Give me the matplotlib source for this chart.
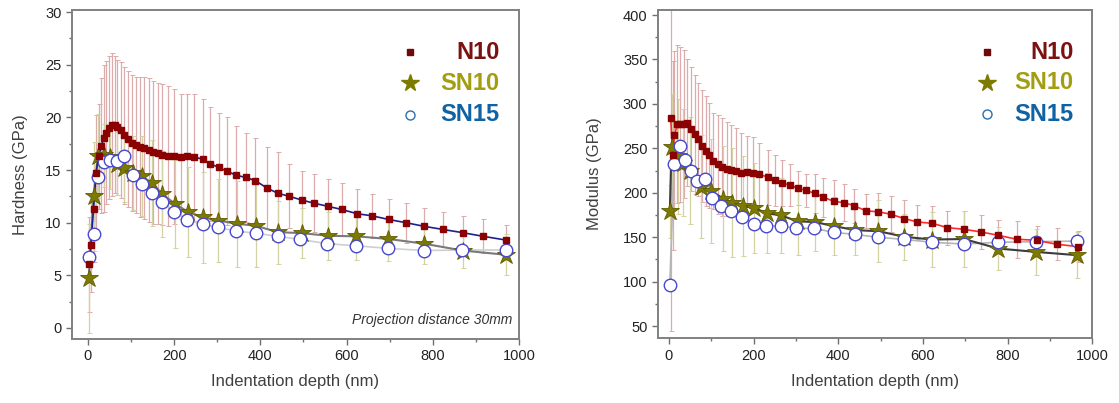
import numpy as np
import matplotlib
matplotlib.use('Agg')
import matplotlib.pyplot as plt
from matplotlib.ticker import MultipleLocator

plt.rcParams['font.family'] = ['Liberation Sans', 'DejaVu Sans']

# ---- Hardness data (left panel)
h_n10_x = [3, 7, 13, 19, 25, 31, 37, 43, 50, 56, 62, 68, 76, 84, 93, 102, 111, 121, 131, 141,
           152, 162, 173, 186, 199, 216, 231, 247, 266, 284, 303, 322, 344, 366, 388, 415, 440,
           467, 496, 524, 557, 589, 624, 659, 698, 737, 780, 824, 869, 917, 969]
h_n10_y = [6.05, 7.9, 11.3, 14.75, 16.3, 17.3, 18.0, 18.55, 19.0, 19.3, 19.3, 19.05, 18.8, 18.3,
           17.95, 17.6, 17.4, 17.2, 17.05, 16.9, 16.7, 16.6, 16.45, 16.35, 16.3, 16.25, 16.35,
           16.2, 16.05, 15.6, 15.25, 14.9, 14.5, 14.3, 14.0, 13.3, 12.8, 12.5, 12.15, 11.85,
           11.55, 11.25, 10.85, 10.65, 10.3, 10.0, 9.65, 9.35, 9.05, 8.7, 8.35]
h_n10_err = [4.5, 4.5, 5.0, 5.5, 5.0, 6.4, 7.0, 6.8, 6.8, 6.8, 6.5, 6.4, 6.5, 6.5, 6.45, 6.45,
             6.45, 6.65, 6.75, 6.85, 6.8, 6.7, 6.7, 6.65, 6.4, 5.95, 5.85, 6.0, 5.7, 5.4, 5.2,
             5.1, 4.7, 4.25, 4.0, 3.9, 3.95, 3.05, 2.75, 2.75, 2.6, 2.5, 2.3, 2.1, 1.9, 1.9,
             1.75, 1.7, 1.6, 1.6, 1.45]

h_sn10_x = [2, 13, 23, 37, 52, 68, 84, 104, 125, 148, 173, 202, 233, 268, 302, 345, 390, 440,
            496, 558, 623, 697, 780, 869, 969]
h_sn10_y = [4.7, 12.5, 16.3, 16.4, 16.2, 15.6, 15.2, 14.7, 14.4, 13.8, 12.7, 11.8, 11.0, 10.5,
            10.2, 9.9, 9.7, 9.1, 9.0, 8.75, 8.7, 8.45, 8.0, 7.35, 6.95]
h_sn10_err = [5.2, 5.2, 4.0, 3.0, 3.0, 3.0, 3.2, 3.5, 3.8, 4.1, 4.1, 4.2, 4.3, 4.35, 3.9, 4.1,
              3.95, 3.0, 2.4, 2.3, 2.25, 2.1, 1.9, 1.7, 1.95]

h_sn15_x = [3, 14, 24, 38, 51, 68, 84, 104, 125, 148, 173, 200, 231, 266, 301, 343, 389, 440,
            493, 555, 623, 697, 780, 868, 969]
h_sn15_y = [6.7, 8.9, 14.3, 15.75, 15.95, 15.85, 16.3, 14.5, 13.65, 12.85, 12.0, 11.0, 10.25,
            9.85, 9.55, 9.2, 9.0, 8.7, 8.4, 8.0, 7.8, 7.55, 7.35, 7.4, 7.4]

# ---- Modulus data (right panel)
m_n10_x = [4, 9, 13, 20, 27, 35, 43, 53, 61, 69, 78, 87, 95, 105, 115, 125, 136, 147, 159, 171,
           184, 198, 213, 235, 250, 268, 285, 305, 324, 344, 365, 390, 414, 438, 466, 495, 524,
           556, 587, 622, 658, 696, 737, 778, 822, 869, 916, 966]
m_n10_y = [284, 242, 265, 277, 277, 277.5, 279, 271.5, 266, 260, 253, 247, 242, 236, 232, 228.7,
           226.8, 225.7, 224.5, 222, 223.7, 222.6, 221, 217.3, 214, 211, 208.7, 205, 202.7,
           199.4, 195, 190.3, 189, 185.3, 179.7, 178.6, 175.9, 171, 167.2, 165.7, 160.8, 159,
           156, 152.2, 147.7, 146.6, 142.1, 139.5]
m_n10_err = [240, 106, 94, 89, 87, 83, 71, 69.5, 67, 64, 63, 61.6, 59, 54, 56, 55, 53, 51, 48,
             45, 40, 40, 35, 31, 29, 26, 24, 19, 19, 22, 22, 24, 21, 19, 19, 21, 20, 21, 19, 19,
             19, 21, 19, 17, 21, 16.5, 18, 17]

m_sn10_x = [2, 6, 22, 34, 50, 75, 100, 128, 150, 175, 201, 232, 265, 304, 346, 390, 440, 495,
            556, 622, 697, 778, 867, 965]
m_sn10_y = [179, 251, 241, 234, 225, 207, 202, 193.5, 189, 185, 183, 177, 174.5, 168, 167,
            162.5, 158, 156.8, 150.5, 147.4, 148, 137.3, 133.5, 129.8]
m_sn10_err = [30, 60, 65, 60, 60, 58, 58, 59, 61, 56, 51, 45, 42, 38, 33, 33, 28, 35, 26, 31,
              31, 24, 26, 26]

m_sn15_x = [2, 12, 25, 39, 51, 67, 86, 102, 124, 147, 173, 200, 230, 265, 301, 343, 389, 439,
            495, 556, 622, 696, 778, 867, 965]
m_sn15_y = [96.6, 232, 252.3, 236.6, 224.6, 213.3, 216, 193.7, 185, 179.8, 173, 164.8, 162.9,
            162.6, 160, 160, 155.5, 153.2, 149.9, 147.6, 144.3, 142.4, 144.3, 145, 145.7]

labels = ['N10', 'SN10', 'SN15']
label_colors = ['#7a1212', '#a39d12', '#0f62a3']

c_n10 = '#8b0000'
c_sn10 = '#7d7a00'
c_sn15 = '#4848d0'


def draw_panel(ax, n10, sn10, sn15, n10_line, sn10_line, sn15_line):
    (nx, ny, ne), (sx, sy, se), (cx, cy) = n10, sn10, sn15
    ax.errorbar(nx, ny, yerr=ne, fmt='none', ecolor='#dcabab', elinewidth=0.9,
                capsize=1.8, capthick=0.7, zorder=1)
    ax.errorbar(sx, sy, yerr=se, fmt='none', ecolor='#d2d2a2', elinewidth=0.9,
                capsize=1.8, capthick=0.7, zorder=1.5)
    ax.plot(cx, cy, color=sn15_line, lw=1.2, zorder=2)
    ax.plot(sx, sy, color=sn10_line, lw=1.5, zorder=2.1)
    ax.plot(nx, ny, color=n10_line, lw=1.2, zorder=2.2)
    ax.plot(sx, sy, ls='none', marker='*', ms=13.5, mfc=c_sn10, mec='#5e5c00', mew=0.6, zorder=3)
    ax.plot(cx, cy, ls='none', marker='o', ms=9, mfc='white', mec=c_sn15, mew=1.0, zorder=4)
    ax.plot(nx, ny, ls='none', marker='s', ms=4.4, mfc=c_n10, mec=c_n10, zorder=5)

    # manual legend
    ys = [0.872, 0.778, 0.682]
    ax.plot(0.757, ys[0], marker='s', ms=5, color='#6e0a0a', transform=ax.transAxes, ls='none')
    ax.plot(0.757, ys[1], marker='*', ms=13, color='#7d7a00', transform=ax.transAxes, ls='none')
    ax.plot(0.757, ys[2], marker='o', ms=6.5, mfc='white', mec='#2a6fb0', mew=1.0,
            transform=ax.transAxes, ls='none')
    for lab, col, yy in zip(labels, label_colors, ys):
        ax.text(0.957, yy, lab, color=col, fontsize=17, fontweight='bold',
                ha='right', va='center', transform=ax.transAxes)

    for s in ['top', 'right', 'left', 'bottom']:
        ax.spines[s].set_color('#808080')
        ax.spines[s].set_linewidth(1.4)
    ax.tick_params(which='major', direction='out', length=4, width=1, color='#707070',
                   labelsize=10.5, labelcolor='#222222', top=False, right=False)
    ax.tick_params(which='minor', direction='out', length=2.5, width=1, color='#707070',
                   top=False, right=False)


fig = plt.figure(figsize=(11.19, 4.03), dpi=100)
ax1 = fig.add_axes([0.0643, 0.159, 0.3995, 0.816])
ax2 = fig.add_axes([0.588, 0.161, 0.388, 0.814])

draw_panel(ax1, (h_n10_x, h_n10_y, h_n10_err), (h_sn10_x, h_sn10_y, h_sn10_err),
           (h_sn15_x, h_sn15_y), '#1f1f8a', '#7a7a7a', '#cfcfcf')
ax1.set_xlim(-37, 1000)
ax1.set_ylim(-1.05, 30.2)
ax1.xaxis.set_major_locator(MultipleLocator(200))
ax1.xaxis.set_minor_locator(MultipleLocator(100))
ax1.yaxis.set_major_locator(MultipleLocator(5))
ax1.yaxis.set_minor_locator(MultipleLocator(2.5))
ax1.set_xlabel('Indentation depth (nm)', fontsize=12, color='#404040', labelpad=8)
ax1.set_ylabel('Hardness (GPa)', fontsize=12, color='#404040')
ax1.yaxis.set_label_coords(-0.099, 0.5)
ax1.text(0.985, 0.035, 'Projection distance 30mm', style='italic', fontsize=10,
         color='#333333', ha='right', va='bottom', transform=ax1.transAxes)

draw_panel(ax2, (m_n10_x, m_n10_y, m_n10_err), (m_sn10_x, m_sn10_y, m_sn10_err),
           (m_sn15_x, m_sn15_y), '#ff2a2a', '#3c3c3c', '#b4b4b4')
ax2.set_xlim(-26, 1000)
ax2.set_ylim(36.5, 405.6)
ax2.xaxis.set_major_locator(MultipleLocator(200))
ax2.xaxis.set_minor_locator(MultipleLocator(100))
ax2.yaxis.set_major_locator(MultipleLocator(50))
ax2.yaxis.set_minor_locator(MultipleLocator(25))
ax2.set_xlabel('Indentation depth (nm)', fontsize=12, color='#404040', labelpad=8)
ax2.set_ylabel('Modulus (GPa)', fontsize=12, color='#404040')
ax2.yaxis.set_label_coords(-0.129, 0.5)

fig.savefig('out.png', dpi=100)
